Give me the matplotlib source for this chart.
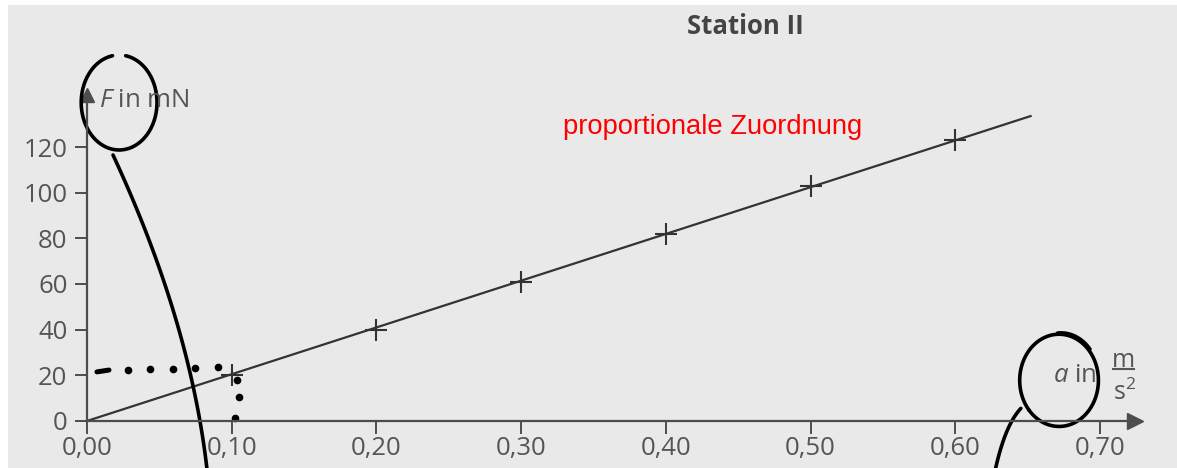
import numpy as np
import matplotlib
matplotlib.use("Agg")
import matplotlib.pyplot as plt

# Messwerte Station II
a_werte = [0.10, 0.20, 0.30, 0.40, 0.50, 0.60]   # a in m/s^2
F_werte = [20, 40, 61, 82, 103, 123]             # F in mN
x_ticks = [0.00, 0.10, 0.20, 0.30, 0.40, 0.50, 0.60, 0.70]
y_ticks = [0, 20, 40, 60, 80, 100, 120]
a_ende = 0.652

plt.rcParams['font.family'] = ['Open Sans', 'DejaVu Sans']
plt.rcParams['mathtext.fontset'] = 'custom'
plt.rcParams['mathtext.rm'] = 'Open Sans'
plt.rcParams['mathtext.it'] = 'Open Sans:italic'

grau = "#4d4d4d"
textgrau = "#555555"
papier = "#e9e9e9"

fig = plt.figure(figsize=(11.77, 4.68), dpi=100)
fig.patch.set_facecolor("white")
fig.patches.append(plt.Rectangle((8 / 1177, 0), 1, 463 / 468, transform=fig.transFigure,
                                 facecolor=papier, edgecolor="none", zorder=-10))

ax = fig.add_axes([0, 0, 1, 1])
ax.set_zorder(1)
ax.set_facecolor("none")
ax.set_xlim(-0.0601, 0.7532)
ax.set_ylim(-20.6, 184.4)

for s in ["top", "right"]:
    ax.spines[s].set_visible(False)
ax.spines["left"].set_position(("data", 0))
ax.spines["bottom"].set_position(("data", 0))
ax.spines["left"].set_bounds(0, 142)
ax.spines["bottom"].set_bounds(0, 0.722)
for s in ["left", "bottom"]:
    ax.spines[s].set_color(grau)
    ax.spines[s].set_linewidth(1.6)
ax.plot(0.724, 0, ">", color=grau, markersize=11, clip_on=False)
ax.plot(0, 143, "^", color=grau, markersize=10, clip_on=False)

ax.set_xticks(x_ticks)
ax.set_xticklabels([f"{v:.2f}".replace(".", ",") for v in x_ticks])
ax.set_yticks(y_ticks)
ax.set_yticklabels([str(v) for v in y_ticks])
ax.tick_params(axis="both", direction="out", color=grau, width=1.4, length=9,
               labelsize=18.5, labelcolor=textgrau)
ax.tick_params(axis="x", pad=2)
ax.tick_params(axis="y", pad=5)

# Ausgleichsgerade durch den Ursprung
k = np.sum(np.array(a_werte) * np.array(F_werte)) / np.sum(np.array(a_werte) ** 2)
a_linie = np.array([0, a_ende])
ax.plot(a_linie, k * a_linie, color="#333333", lw=1.6)
ax.plot(a_werte, F_werte, "+", color="#333333", markersize=16, mew=1.5)

# Achsenbeschriftungen
ax.text(0.008, 140.5, r"$F$ in mN", fontsize=18.5, color=textgrau, va="center", ha="left")
ax.text(0.6675, 20.1, r"$a$ in", fontsize=18.5, color=textgrau, va="center", ha="left")
ax.text(0.7159, 26.6, "m", fontsize=18, color=textgrau, va="center", ha="center")
ax.plot([0.7087, 0.7232], [22.8, 22.8], color=textgrau, lw=1.5)
ax.text(0.7168, 12.5, r"$\mathrm{s}^{2}$", fontsize=18, color=textgrau, va="center",
        ha="center")

fig.text(745 / 1177, 1 - 27 / 468, "Station II", fontsize=18.5, fontweight="bold",
         color="#444444", ha="center", va="center")
fig.text(563 / 1177, 1 - 127 / 468, "proportionale Zuordnung", fontsize=19.7,
         family="Liberation Sans", color="red", ha="left", va="center")

# Handschriftliche Markierungen
def kreis(ax, cx, cy, rx, ry, start, stop):
    t = np.radians(np.linspace(start, stop, 200))
    ax.plot(cx + rx * np.cos(t), cy + ry * np.sin(t), color="black", lw=2.6,
            solid_capstyle="round", clip_on=False)

def bogen(ax, p0, p1, p2):
    t = np.linspace(0, 1, 100)[:, None]
    p = (1 - t) ** 2 * np.array(p0) + 2 * (1 - t) * t * np.array(p1) + t ** 2 * np.array(p2)
    ax.plot(p[:, 0], p[:, 1], color="black", lw=2.6, solid_capstyle="round", clip_on=False)

kreis(ax, 0.0222, 139.5, 0.0262, 20.8, 100, 440)
bogen(ax, (0.0180, 116.5), (0.0712, 44.0), (0.0830, -21.5))
kreis(ax, 0.6717, 17.8, 0.0272, 20.2, -140, 220)
kreis(ax, 0.6730, 18.6, 0.0262, 20.0, 40, 95)
bogen(ax, (0.6453, 5.5), (0.6344, -1.8), (0.6276, -21.5))

# gepunktete Ablesehilfe bei a = 0,10
ax.plot([0.0069, 0.0152], [21.5, 22.3], color="black", lw=3.6, solid_capstyle="round")
ax.plot(np.linspace(0.0283, 0.0905, 5), np.linspace(22.3, 23.5, 5), "o", color="black",
        markersize=4.5)
ax.plot([0.1037, 0.1051, 0.1023], [18.0, 10.5, 1.3], "o", color="black", markersize=4.5)

fig.savefig("out.png", dpi=100)
